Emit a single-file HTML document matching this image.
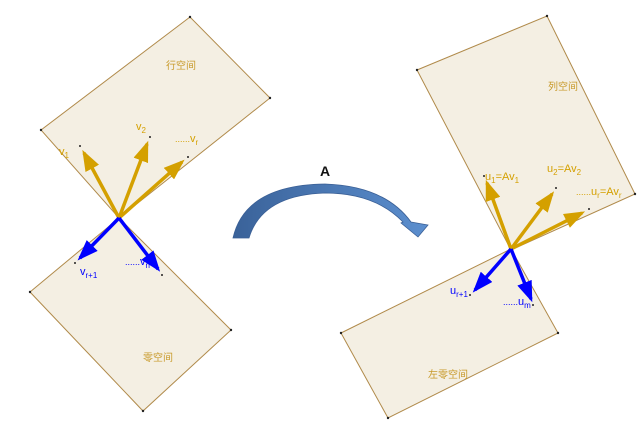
<!DOCTYPE html>
<html><head><meta charset="utf-8"><style>
html,body{margin:0;padding:0;background:#fff;width:640px;height:426px;overflow:hidden}
svg text{font-family:"Liberation Sans","Noto Sans CJK SC",sans-serif}
</style></head><body>
<svg width="640" height="426" viewBox="0 0 640 426" xmlns="http://www.w3.org/2000/svg">
<defs>
<linearGradient id="g" x1="0" y1="0" x2="1" y2="0">
<stop offset="0" stop-color="#3a6299"/><stop offset="1" stop-color="#5c8fcf"/>
</linearGradient>
<marker id="ag" markerWidth="6" markerHeight="4.4" refX="5" refY="2.2" orient="auto" markerUnits="strokeWidth"><path d="M0,0 L6,2.2 L0,4.4 Z" fill="#d4a000"/></marker>
<marker id="ab" markerWidth="6" markerHeight="4.4" refX="5" refY="2.2" orient="auto" markerUnits="strokeWidth"><path d="M0,0 L6,2.2 L0,4.4 Z" fill="#0000ff"/></marker>
</defs>
<g fill="#f4efe3" stroke="#b08a4a" stroke-width="1">
<polygon points="41,130 190,17 270,98 119,218"/>
<polygon points="30,292 119,218 231,330 143,411"/>
<polygon points="417,70 547,16 635,194 511,250"/>
<polygon points="341,333 511,249 558,333 388,418"/>
</g>
<g fill="#222">
<circle cx="41" cy="130" r="1.2"/><circle cx="190" cy="17" r="1.2"/><circle cx="270" cy="98" r="1.2"/>
<circle cx="30" cy="292" r="1.2"/><circle cx="231" cy="330" r="1.2"/><circle cx="143" cy="411" r="1.2"/>
<circle cx="417" cy="70" r="1.2"/><circle cx="547" cy="16" r="1.2"/><circle cx="635" cy="194" r="1.2"/>
<circle cx="341" cy="333" r="1.2"/><circle cx="558" cy="333" r="1.2"/><circle cx="388" cy="418" r="1.2"/>
<circle cx="80" cy="146" r="1"/><circle cx="150" cy="137" r="1"/><circle cx="188" cy="157" r="1"/>
<circle cx="75" cy="263" r="1"/><circle cx="162" cy="275" r="1"/>
<circle cx="484" cy="176" r="1"/><circle cx="556" cy="188" r="1"/><circle cx="589" cy="209" r="1"/>
<circle cx="470" cy="295" r="1"/><circle cx="533" cy="305" r="1"/>
</g>
<g stroke="#d4a000" stroke-width="3.5" marker-end="url(#ag)">
<line x1="119" y1="218" x2="84" y2="153"/>
<line x1="119" y1="218" x2="147" y2="144"/>
<line x1="119" y1="218" x2="182" y2="162"/>
<line x1="511" y1="249" x2="487" y2="183"/>
<line x1="511" y1="249" x2="552" y2="194"/>
<line x1="511" y1="249" x2="582" y2="213"/>
</g>
<g stroke="#0000ff" stroke-width="3.5" marker-end="url(#ab)">
<line x1="119" y1="218" x2="80" y2="258"/>
<line x1="119" y1="218" x2="158" y2="269"/>
<line x1="511" y1="249" x2="475" y2="290"/>
<line x1="511" y1="249" x2="531" y2="299"/>
</g>
<path d="M233,238 Q245,185 325,184 Q385,186 411,222 L428,225 L418,237 L401,223 L403,222 Q375,193 325,193 Q262,195 249,238 Z" fill="url(#g)" stroke="#3a5f95" stroke-width="0.8"/>
<text x="320" y="176" font-size="14" font-weight="bold" fill="#111">A</text>
<g fill="#c89a2a" font-size="10">
<text x="166" y="69">行空间</text>
<text x="143" y="361">零空间</text>
<text x="548" y="90">列空间</text>
<text x="428" y="378">左零空间</text>
</g>
<g fill="#d4a000" font-size="11">
<text x="59" y="155">v<tspan font-size="8" dy="3">1</tspan></text>
<text x="136" y="130">v<tspan font-size="8" dy="3">2</tspan></text>
<text x="175" y="142"><tspan font-size="9">......</tspan>v<tspan font-size="8" dy="3">r</tspan></text>
<text x="485" y="180">u<tspan font-size="8" dy="3">1</tspan><tspan dy="-3">=Av</tspan><tspan font-size="8" dy="3">1</tspan></text>
<text x="547" y="172">u<tspan font-size="8" dy="3">2</tspan><tspan dy="-3">=Av</tspan><tspan font-size="8" dy="3">2</tspan></text>
<text x="576" y="195"><tspan font-size="9">......</tspan>u<tspan font-size="8" dy="3">r</tspan><tspan dy="-3">=Av</tspan><tspan font-size="8" dy="3">r</tspan></text>
</g>
<g fill="#0000ff" font-size="11">
<text x="80" y="275">v<tspan font-size="8" dy="3">r+1</tspan></text>
<text x="125" y="265"><tspan font-size="9">......</tspan>v<tspan font-size="8" dy="3">n</tspan></text>
<text x="450" y="294">u<tspan font-size="8" dy="3">r+1</tspan></text>
<text x="503" y="305"><tspan font-size="9">......</tspan>u<tspan font-size="8" dy="3">m</tspan></text>
</g>
</svg>
</body></html>
